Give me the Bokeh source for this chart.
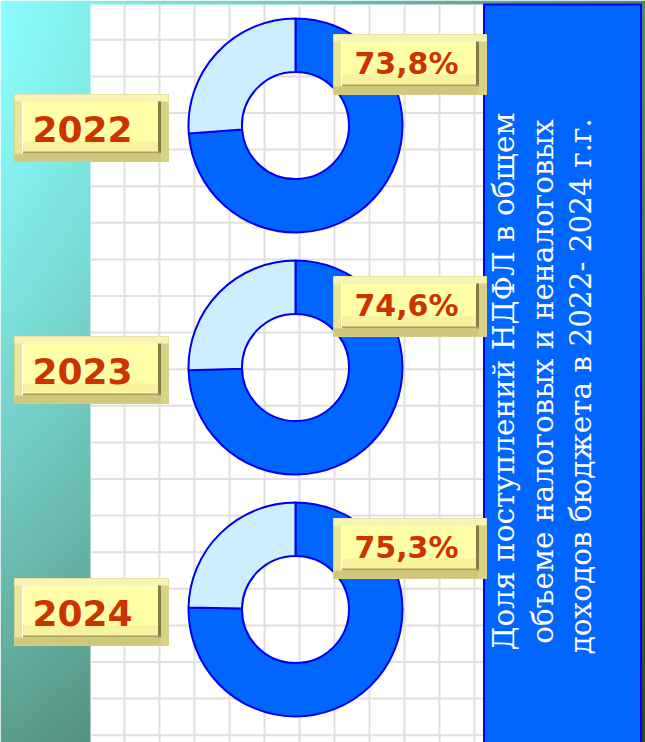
import numpy as np
from bokeh.plotting import figure
from bokeh.models import Range1d, ColumnDataSource
from bokeh.embed import file_html
from bokeh.resources import INLINE
from bokeh.core.properties import value

# ---- data ----
years = ["2022", "2023", "2024"]
ndfl_share = [73.8, 74.6, 75.3]          # % share of NDFL
share_labels = ["73,8%", "74,6%", "75,3%"]
title_lines = [
    "Доля поступлений НДФЛ в общем",
    "объеме налоговых и неналоговых",
    "доходов  бюджета в 2022- 2024 г.г.",
]

# ---- layout (page pixel coordinates of the reference) ----
W, H = 645, 742


def Y(py):
    return H - py


p = figure(width=W, height=H, x_range=Range1d(0, W), y_range=Range1d(0, H),
           output_backend="svg", toolbar_location=None, min_border=0,
           x_axis_type=None, y_axis_type=None)
p.grid.visible = False
p.outline_line_color = None
p.background_fill_color = "white"
p.border_fill_color = "white"

# background gradient (bilinear between four corner colours)
def hex2rgb(h):
    h = h.lstrip("#")
    return np.array([int(h[i:i + 2], 16) for i in (0, 2, 4)], dtype=float)

TL, TR, BL, BR = hex2rgb("#8cffff"), hex2rgb("#4a8a72"), hex2rgb("#5c9e8e"), hex2rgb("#2c4630")
nx, ny = 215, 248
u = (np.arange(nx) + 0.5) / nx
v_pix = 1 - (np.arange(ny) + 0.5) / ny   # row 0 = bottom of image
U, V = np.meshgrid(u, v_pix)
V2 = V ** 1.4
col = (TL[None, None, :] * ((1 - U) * (1 - V2))[..., None] + TR[None, None, :] * (U * (1 - V2))[..., None]
       + BL[None, None, :] * ((1 - U) * V2)[..., None] + BR[None, None, :] * (U * V2)[..., None])
img = np.zeros((ny, nx), dtype=np.uint32)
view = img.view(dtype=np.uint8).reshape((ny, nx, 4))
view[..., 0] = col[..., 0].astype(np.uint8)
view[..., 1] = col[..., 1].astype(np.uint8)
view[..., 2] = col[..., 2].astype(np.uint8)
view[..., 3] = 255
p.image_rgba(image=[img], x=0, y=0, dw=W, dh=H)

# white grid paper
p.quad(left=90, right=484, top=Y(4), bottom=Y(745), fill_color="white", line_color=None)
vx = [124 + 35 * k for k in range(11)]
p.segment(x0=vx, y0=[Y(4)] * len(vx), x1=vx, y1=[Y(745)] * len(vx),
          line_color="#e0e0e0", line_width=2)
hy = [Y(39.3 + 36.6 * k) for k in range(20)]
p.segment(x0=[90] * len(hy), y0=hy, x1=[484] * len(hy), y1=hy,
          line_color="#e0e0e0", line_width=2)

# donuts
cx = 295
cys = [125, 367, 609]
share = np.array(ndfl_share) / 100.0
rest_start = np.pi / 2
rest_end = np.pi / 2 + 2 * np.pi * (1 - share)
dark_start = rest_end
dark_end = np.full(3, np.pi / 2 + 2 * np.pi)
src = ColumnDataSource(dict(
    x=[cx] * 3, y=[Y(c) for c in cys],
    ds=dark_start, de=dark_end, ls=[rest_start] * 3, le=rest_end))
p.annular_wedge(x="x", y="y", inner_radius=53.5, outer_radius=107,
                start_angle="ds", end_angle="de", source=src,
                fill_color="#0066ff", line_color="#0000ee", line_width=2)
p.annular_wedge(x="x", y="y", inner_radius=53.5, outer_radius=107,
                start_angle="ls", end_angle="le", source=src,
                fill_color="#cceeff", line_color="#0000ee", line_width=2)

# blue title panel
p.quad(left=483.5, right=640.5, top=Y(4), bottom=Y(746),
       fill_color="#0066ff", line_color="#0000f0", line_width=2)
p.text(x=[503, 542, 580], y=[Y(381)] * 3, text=title_lines, angle=np.pi / 2,
       text_align="center", text_baseline="alphabetic",
       text_font=value("DejaVu Serif"), text_font_size="29.5px", text_color="white")

# bevelled yellow label boxes
def boxes(x0, x1, top_off, bot_off):
    L, R, T, B = [], [], [], []
    for c in cys:
        L.append(x0); R.append(x1); T.append(Y(c + top_off)); B.append(Y(c + bot_off))
    return np.array(L, float), np.array(R, float), np.array(T, float), np.array(B, float)

for (x0, x1, t_off, b_off) in [(14, 168, -31, 36), (333, 486, -91, -31)]:
    L, R, T, B = boxes(x0, x1, t_off, b_off)
    # outer frame
    p.quad(left=L, right=R, top=T, bottom=B, fill_color="#ebe69a", line_color="#d8d28a", line_width=1)
    # lower frame darker
    p.quad(left=L, right=R, top=B + 8, bottom=B, fill_color="#cfc77c", line_color=None)
    p.quad(left=R - 8, right=R, top=T, bottom=B, fill_color="#d9d284", line_color=None)
    # top frame lighter
    p.quad(left=L, right=R, top=T, bottom=T - 7, fill_color="#f7f4b6", line_color=None)
    # face
    p.quad(left=L + 8, right=R - 8, top=T - 7, bottom=B + 8, fill_color="#ffffa8", line_color=None)
    p.quad(left=L + 8, right=R - 8, top=B + 20, bottom=B + 8, fill_color="#f6f29e", line_color=None)
    # dark inner edges
    p.segment(x0=R - 9, y0=T - 7, x1=R - 9, y1=B + 8, line_color="#857b45", line_width=3)
    p.segment(x0=L + 8, y0=B + 9, x1=R - 8, y1=B + 9, line_color="#a89f5e", line_width=2)
    p.segment(x0=L + 8, y0=T - 7, x1=L + 8, y1=B + 8, line_color="#fffff0", line_width=1)

p.text(x=[82] * 3, y=[Y(c + 3) for c in cys], text=years,
       text_align="center", text_baseline="alphabetic",
       text_font=value("DejaVu Sans"), text_font_style="bold",
       text_font_size="36px", text_color="#cc3300")
p.text(x=[406] * 3, y=[Y(c - 62) for c in cys], text=share_labels,
       text_align="center", text_baseline="alphabetic",
       text_font=value("DejaVu Sans"), text_font_style="bold",
       text_font_size="30px", text_color="#cc3300")

open("out.html", "w").write(file_html(p, INLINE))
